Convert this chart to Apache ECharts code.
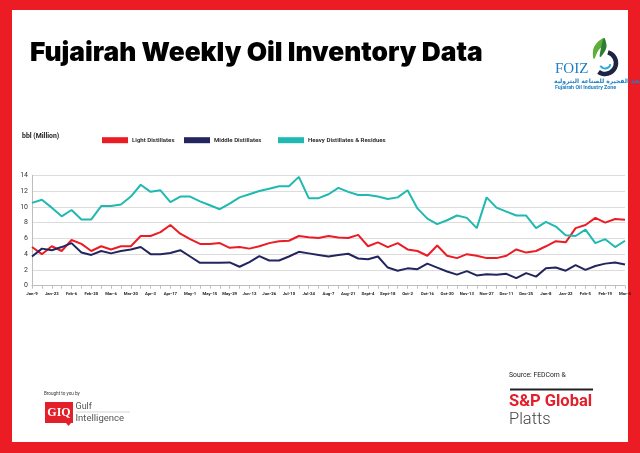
<!DOCTYPE html>
<html><head><meta charset="utf-8">
<script src="https://cdn.jsdelivr.net/npm/echarts@6/dist/echarts.min.js"></script>
<style>html,body{margin:0;padding:0;background:#fff}#c{width:640px;height:453px}</style>
</head><body><div id="c"></div>
<script>
const categories = ["Jan-9","Jan-16","Jan-23","Jan-30","Feb-6","Feb-13","Feb-20","Feb-27","Mar-6","Mar-13","Mar-20","Mar-27","Apr-3","Apr-10","Apr-17","Apr-24","May-1","May-8","May-15","May-22","May-29","Jun-5","Jun-12","Jun-19","Jun-26","Jul-3","Jul-10","Jul-17","Jul-24","Jul-31","Aug-7","Aug-14","Aug-21","Aug-28","Sept-4","Sept-11","Sept-18","Sept-25","Oct-2","Oct-9","Oct-16","Oct-23","Oct-30","Nov-6","Nov-13","Nov-20","Nov-27","Dec-4","Dec-11","Dec-18","Dec-25","Jan-1","Jan-8","Jan-15","Jan-22","Jan-29","Feb-5","Feb-12","Feb-19","Feb-26","Mar-4"];
const lightDistillates = [4.9,4.0,5.0,4.4,5.8,5.3,4.4,5.0,4.6,5.0, 5.0,6.3,6.3,6.8,7.7,6.6,5.9,5.3,5.3,5.4, 4.8,4.9,4.7,5.0,5.4,5.65,5.7,6.3,6.15,6.05, 6.3,6.1,6.05,6.45,5.0,5.5,4.9,5.4,4.6,4.4, 3.8,5.1,3.8,3.5,4.0,3.8,3.5,3.5,3.8,4.6, 4.2,4.4,5.0,5.65,5.5,7.3,7.7,8.6,8.0,8.45, 8.35];
const middleDistillates = [3.7,4.7,4.5,4.9,5.4,4.2,3.9,4.4,4.1,4.4, 4.6,4.9,4.0,4.0,4.15,4.5,3.7,2.9,2.9,2.9, 2.95,2.4,3.0,3.75,3.2,3.2,3.7,4.3,4.1,3.9, 3.7,3.9,4.05,3.45,3.35,3.7,2.3,1.9,2.2,2.1, 2.8,2.3,1.8,1.4,1.85,1.3,1.45,1.4,1.5,0.95, 1.6,1.15,2.2,2.3,1.9,2.6,2.0,2.5,2.8,2.95, 2.7];
const heavyDistillates = [10.5,10.9,9.9,8.8,9.6,8.4,8.4,10.1,10.1,10.3, 11.3,12.8,11.9,12.1,10.6,11.3,11.3,10.7,10.2,9.7, 10.4,11.2,11.6,12.0,12.3,12.6,12.6,13.8,11.1,11.1, 11.6,12.4,11.9,11.5,11.5,11.3,11.0,11.2,12.1,9.8, 8.5,7.8,8.3,8.9,8.6,7.3,11.2,9.9,9.4,8.9, 8.9,7.3,8.1,7.5,6.4,6.3,7.1,5.4,5.9,4.9, 5.7];
const seriesNames = ["Light Distillates","Middle Distillates","Heavy Distillates & Residues"];
const yTicks = {min:0, max:14, interval:2};

const RED = '#ec1c24', NAVY = '#23255f', TEAL = '#1fb9b2';
const chart = echarts.init(document.getElementById('c'), null, {renderer:'canvas'});
const legendBase = (name, left) => ({
  data:[name], left:left, top:137.2, padding:0, itemWidth:26, itemHeight:6, icon:'rect',
  selectedMode:false,
  textStyle:{fontSize:6.1, fontWeight:600, color:'#222', fontFamily:'Roboto', padding:[0,0,0,-1]}
});
chart.setOption({
  backgroundColor: RED,
  animation:false,
  legend:[legendBase(seriesNames[0],102), legendBase(seriesNames[1],184), legendBase(seriesNames[2],278)],
  grid:{left:32, right:15, top:175.3, bottom:167.3, containLabel:false},
  xAxis:{type:'category', data:categories, boundaryGap:false,
    axisLine:{lineStyle:{color:'#bdbdbd', width:1}},
    axisTick:{show:true, interval:0, length:3, lineStyle:{color:'#bdbdbd'}},
    axisLabel:{interval:1, fontSize:4.3, fontWeight:'bold', color:'#222', margin:6.5, fontFamily:'Roboto'},
    splitLine:{show:false}},
  yAxis:{type:'value', min:yTicks.min, max:yTicks.max, interval:yTicks.interval,
    axisLine:{show:true, lineStyle:{color:'#bdbdbd'}},
    axisTick:{show:false},
    axisLabel:{fontSize:7, color:'#333', margin:4, fontFamily:'Roboto'},
    splitLine:{lineStyle:{color:'#dcdcdc', width:1}}},
  series:[
    {name:seriesNames[0], type:'line', data:lightDistillates, symbol:'none', lineStyle:{color:RED, width:2}, itemStyle:{color:RED}},
    {name:seriesNames[1], type:'line', data:middleDistillates, symbol:'none', lineStyle:{color:NAVY, width:2}, itemStyle:{color:NAVY}},
    {name:seriesNames[2], type:'line', data:heavyDistillates, symbol:'none', lineStyle:{color:TEAL, width:2}, itemStyle:{color:TEAL}}
  ],
  graphic:[
    {type:'rect', z:-10, silent:true, shape:{x:12, y:10, width:616, height:432}, style:{fill:'#fff'}},
    {type:'text', style:{text:'Fujairah Weekly Oil Inventory Data', x:30, y:53, verticalAlign:'middle', fontSize:26.3, fontWeight:900, fontFamily:'Inter', fill:'#000'}},
    {type:'text', style:{text:'bbl (Million)', x:22, y:136.5, verticalAlign:'middle', fontSize:6.9, fontWeight:'bold', fontFamily:'Roboto', fill:'#222'}},
    // FOIZ logo
    {type:'arc', shape:{cx:605, cy:63, r:11, startAngle:-1.3, endAngle:2.2, clockwise:true}, style:{stroke:'#1c2541', lineWidth:4.5, fill:'none'}},
    {type:'polygon', shape:{points:[[604,38],[596,44],[593,51],[594,59],[598,51],[603,45]], smooth:0.4}, style:{fill:'#5fae3c'}},
    {type:'polygon', shape:{points:[[604,38],[606.5,45],[605,51],[600,57],[601,48]], smooth:0.4}, style:{fill:'#2e7d32'}},
    {type:'arc', shape:{cx:605, cy:63, r:5.5, startAngle:0.2, endAngle:2.6}, style:{stroke:'#29a9e1', lineWidth:2, fill:'none'}},
    {type:'text', style:{text:'FOIZ', x:555, y:69, verticalAlign:'middle', fontSize:15, fontFamily:'Liberation Serif', fill:'#1e7fc2'}},
    {type:'text', style:{text:'منطقة الفجيرة للصناعة البترولية', x:651, y:81, align:'right', verticalAlign:'middle', fontSize:6.0, fontWeight:'bold', fontFamily:'DejaVu Sans', fill:'#1e7fc2'}},
    {type:'text', style:{text:'Fujairah Oil Industry Zone', x:555, y:87.5, verticalAlign:'middle', fontSize:5.3, fontWeight:'bold', fontFamily:'Roboto', fill:'#1e7fc2'}},
    // Bottom left
    {type:'text', style:{text:'Brought to you by', x:44, y:393.5, verticalAlign:'middle', fontSize:4.6, fontFamily:'Roboto', fill:'#333'}},
    {type:'rect', shape:{x:45, y:402, width:28, height:21}, style:{fill:'#e3202a'}},
    {type:'polygon', shape:{points:[[66,423],[71,423],[68.5,426]]}, style:{fill:'#e3202a'}},
    {type:'text', style:{text:'GIQ', x:59, y:412.5, align:'center', verticalAlign:'middle', fontSize:12, fontWeight:'bold', fontFamily:'Liberation Serif', fill:'#fff'}},
    {type:'text', style:{text:'Gulf', x:75.5, y:406.5, verticalAlign:'middle', fontSize:9, fontFamily:'Roboto', fill:'#555'}},
    {type:'line', shape:{x1:76, y1:412, x2:130, y2:412}, style:{stroke:'#bbb', lineWidth:0.6}},
    {type:'text', style:{text:'Intelligence', x:75.5, y:418.5, verticalAlign:'middle', fontSize:9.5, fontFamily:'Roboto', fill:'#555'}},
    // Bottom right
    {type:'text', style:{text:'Source: FEDCom &', x:509, y:375.5, verticalAlign:'middle', fontSize:6.8, fontFamily:'Roboto', fill:'#222'}},
    {type:'rect', shape:{x:510, y:388.5, width:83, height:2}, style:{fill:'#222'}},
    {type:'text', style:{text:'S&P Global', x:509, y:401.5, verticalAlign:'middle', fontSize:16.5, fontWeight:'bold', fontFamily:'Roboto', fill:'#e3202a'}},
    {type:'text', style:{text:'Platts', x:509, y:419.5, verticalAlign:'middle', fontSize:16.5, fontWeight:300, fontFamily:'Roboto', fill:'#444'}}
  ]
});
</script></body></html>
